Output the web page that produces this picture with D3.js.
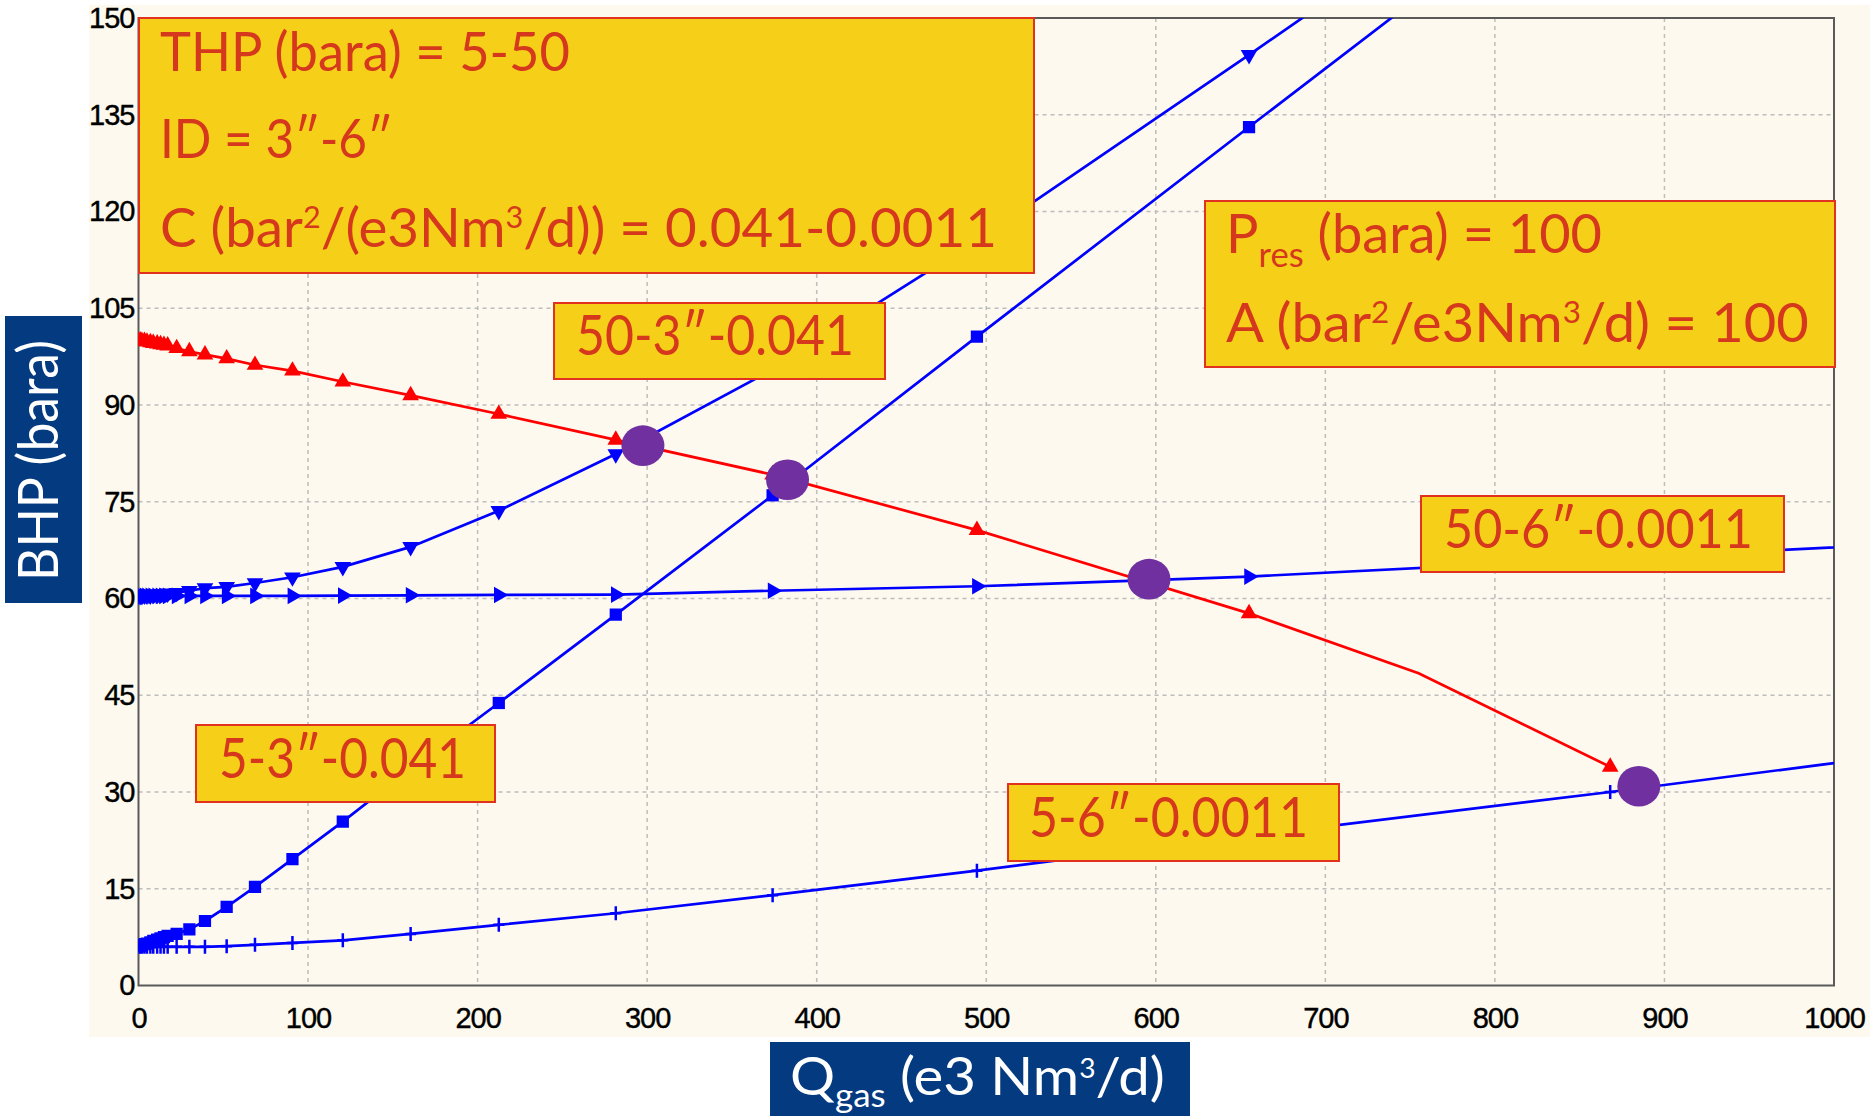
<!DOCTYPE html>
<html>
<head>
<meta charset="utf-8">
<script src="https://cdn.jsdelivr.net/npm/d3@7"></script>
<style>
  body { margin: 0; background: #ffffff; }
  svg { display: block; }
</style>
</head>
<body>
<svg id="chart" width="1870" height="1116"></svg>
<script>
// gas rate grid shared by the tubing curves (e3 Nm3/d)
const qGrid = [0, 1, 2, 3.5, 5, 7, 8.7, 11, 13, 15, 17.2, 22.5, 30, 39.2, 52, 68.7, 90.8, 120.5, 160.5, 212.5, 281.5, 374, 494.5, 655, 868, 1150];

// tubing performance curves, BHP (bara)
const bhp50_3 = [60.4, 60.4, 60.4, 60.5, 60.5, 60.5, 60.6, 60.6, 60.7, 60.7, 60.8, 60.9, 61.2, 61.6, 61.8, 62.4, 63.3, 64.9, 68.0, 73.6, 82.4, 95.5, 115.5, 144.3, 183];
const bhp50_6 = [60.4, 60.4, 60.4, 60.4, 60.4, 60.4, 60.4, 60.4, 60.4, 60.4, 60.4, 60.4, 60.4, 60.4, 60.4, 60.4, 60.4, 60.45, 60.5, 60.55, 60.6, 61.2, 61.9, 63.4, 66.2, 69.9];
const bhp5_3 = [6.1, 6.2, 6.3, 6.4, 6.5, 6.7, 6.9, 7.1, 7.3, 7.5, 7.7, 8.0, 8.7, 10.0, 12.2, 15.3, 19.6, 25.4, 33.6, 43.8, 57.5, 76.0, 100.6, 133.1, 176];
const bhp5_6 = [6.0, 6.0, 6.0, 6.0, 6.0, 6.0, 6.0, 6.0, 6.0, 6.0, 6.0, 6.0, 6.0, 6.0, 6.1, 6.3, 6.6, 7.0, 8.0, 9.4, 11.2, 14.0, 17.8, 23.2, 30.0, 39.6];

// inflow performance curve
const iprQ = [0, 1, 2, 3.5, 5, 7, 8.7, 11, 13, 15, 17.2, 22.5, 30, 39.2, 52, 68.7, 90.8, 120.5, 160.5, 212.5, 281.5, 374, 494.5, 655, 755, 868];
const iprP = [100.0, 100.0, 99.9, 99.9, 99.8, 99.7, 99.6, 99.5, 99.4, 99.3, 99.2, 98.8, 98.3, 97.8, 97.2, 96.2, 95.3, 93.6, 91.5, 88.6, 84.6, 79.2, 70.6, 57.7, 48.4, 33.9];

// operating points (intersections)
const opQ = [297.5, 382.8, 596.0, 884.9];
const opP = [83.7, 78.4, 63.0, 30.9];

const xTicks = [0, 100, 200, 300, 400, 500, 600, 700, 800, 900, 1000];
const yTicks = [0, 15, 30, 45, 60, 75, 90, 105, 120, 135, 150];

const svg = d3.select("#chart");
const pLeft = 138.5, pRight = 1834, pTop = 18, pBottom = 985.5;

const x = d3.scaleLinear().domain([0, 1000]).range([pLeft, pRight]);
const y = d3.scaleLinear().domain([0, 150]).range([pBottom, pTop]);

const RED_TXT = "#d5381c", BOX_FILL = "#f6d018", BOX_LINE = "#e0321e", NAVY = "#043a80";
const FONT = "Lato, 'Open Sans', sans-serif";

// cream background
svg.append("rect").attr("x", 89).attr("y", 5).attr("width", 1781).attr("height", 1032).attr("fill", "#fdf9ee");

// grid
const grid = svg.append("g").attr("stroke", "#bdbdbd").attr("stroke-width", 1.5).attr("stroke-dasharray", "4,4");
grid.selectAll(".gx").data(xTicks.slice(1, -1)).enter().append("line")
  .attr("x1", d => x(d)).attr("x2", d => x(d)).attr("y1", pTop).attr("y2", pBottom);
grid.selectAll(".gy").data(yTicks.slice(1, -1)).enter().append("line")
  .attr("y1", d => y(d)).attr("y2", d => y(d)).attr("x1", pLeft).attr("x2", pRight);

// axes
const xAxis = svg.append("g").attr("transform", `translate(0,${pBottom})`)
  .call(d3.axisBottom(x).tickValues(xTicks).tickSize(0).tickPadding(21.5).tickFormat(d3.format("d")));
const yAxis = svg.append("g").attr("transform", `translate(${pLeft},0)`)
  .call(d3.axisLeft(y).tickValues(yTicks).tickSize(0).tickPadding(4).tickFormat(d3.format("d")));
[xAxis, yAxis].forEach(a => {
  a.select(".domain").remove();
  a.selectAll("text").attr("fill", "#000").style("font-family", "'Liberation Sans', Arial, sans-serif")
    .style("font-size", "29px").style("letter-spacing", "-1px")
    .attr("stroke", "#000").attr("stroke-width", 0.4);
});

// frame
svg.append("rect").attr("x", pLeft).attr("y", pTop).attr("width", pRight - pLeft).attr("height", pBottom - pTop)
  .attr("fill", "none").attr("stroke", "#5a5a5a").attr("stroke-width", 2);

svg.append("clipPath").attr("id", "plotclip").append("rect")
  .attr("x", pLeft).attr("y", pTop).attr("width", pRight - pLeft).attr("height", pBottom - pTop);
const plot = svg.append("g").attr("clip-path", "url(#plotclip)");

const line = d3.line().x(d => x(d[0])).y(d => y(d[1]));

const tubing = [
  { p: bhp5_6, marker: "plus" },
  { p: bhp5_3, marker: "square" },
  { p: bhp50_6, marker: "right" },
  { p: bhp50_3, marker: "down" }
];

function drawMarkers(g, pts, kind, color) {
  if (kind === "plus") {
    g.selectAll(null).data(pts).enter().append("path")
      .attr("d", d => `M${x(d[0]) - 5.5},${y(d[1])}h11M${x(d[0])},${y(d[1]) - 7}v14`)
      .attr("stroke", color).attr("stroke-width", 2.5).attr("fill", "none");
    return;
  }
  const type = kind === "square" ? d3.symbolSquare : d3.symbolTriangle;
  const size = kind === "square" ? 150 : 120;
  const rot = kind === "down" ? 180 : kind === "right" ? 90 : 0;
  g.selectAll(null).data(pts).enter().append("path")
    .attr("d", d3.symbol().type(type).size(size)())
    .attr("transform", d => `translate(${x(d[0])},${y(d[1])}) rotate(${rot})`)
    .attr("fill", color);
}

tubing.forEach(s => {
  const pts = s.p.map((v, i) => [qGrid[i], v]);
  plot.append("path").datum(pts).attr("d", line).attr("fill", "none")
    .attr("stroke", "#0000ff").attr("stroke-width", 2.7);
  drawMarkers(plot, pts, s.marker, "#0000ff");
});

const ipr = iprQ.map((q, i) => [q, iprP[i]]);
plot.append("path").datum(ipr).attr("d", line).attr("fill", "none")
  .attr("stroke", "#ff0000").attr("stroke-width", 2.7);
drawMarkers(plot, ipr.filter(d => qGrid.includes(d[0])), "up", "#ff0000");

// operating points
svg.selectAll(".op").data(opQ).enter().append("ellipse")
  .attr("cx", d => x(d)).attr("cy", (d, i) => y(opP[i]))
  .attr("rx", 21.5).attr("ry", 20.3).attr("fill", "#7030a0");

// rich text helper: segments [text, kind]; kind n | sup | sub
function richText(g, segs, size, color, opt) {
  const o = Object.assign({ supSize: 0.56, supShift: 0.34, subSize: 0.64, subShift: 0.25 }, opt || {});
  const t = g.append("text").attr("fill", color).style("font-family", FONT).style("font-size", size + "px");
  let shift = 0;
  segs.forEach(([s, k]) => {
    const target = k === "sup" ? -size * o.supShift : k === "sub" ? size * o.subShift : 0;
    const fs = k === "sup" ? size * o.supSize : k === "sub" ? size * o.subSize : size;
    t.append("tspan").attr("dy", target - shift).style("font-size", fs + "px").text(s);
    shift = target;
  });
  return t;
}
function fit(t, x0, x1, base) {
  const b = t.node().getBBox();
  const sx = (x1 - x0) / b.width;
  t.attr("transform", `translate(${x0 - b.x * sx},${base}) scale(${sx},1)`);
}

// annotation boxes
const boxes = [
  { r: [139, 18, 1034, 273], size: 54, lines: [
    { segs: [["THP (bara) = 5-50", "n"]], x0: 160, x1: 570, base: 70.7 },
    { segs: [["ID = 3\u2033-6\u2033", "n"]], x0: 160, x1: 393, base: 158 },
    { segs: [["C (bar", "n"], ["2", "sup"], ["/(e3Nm", "n"], ["3", "sup"], ["/d)) = 0.041-0.0011", "n"]], x0: 160, x1: 997, base: 246.7 }
  ] },
  { r: [554, 303, 885, 379], size: 56, lines: [
    { segs: [["50-3\u2033-0.041", "n"]], x0: 576, x1: 854, base: 355 }
  ] },
  { r: [1205, 201, 1835, 367], size: 55, lines: [
    { segs: [["P", "n"], ["res", "sub"], [" (bara) = 100", "n"]], x0: 1226, x1: 1602, base: 253 },
    { segs: [["A (bar", "n"], ["2", "sup"], ["/e3Nm", "n"], ["3", "sup"], ["/d) = 100", "n"]], x0: 1226, x1: 1809, base: 341.7 }
  ] },
  { r: [1421, 496, 1784, 572], size: 55, lines: [
    { segs: [["50-6\u2033-0.0011", "n"]], x0: 1444, x1: 1753, base: 548.3 }
  ] },
  { r: [196, 725, 495, 802], size: 56, lines: [
    { segs: [["5-3\u2033-0.041", "n"]], x0: 219, x1: 466, base: 778 }
  ] },
  { r: [1008, 784, 1339, 861], size: 56, lines: [
    { segs: [["5-6\u2033-0.0011", "n"]], x0: 1029, x1: 1308, base: 837.3 }
  ] }
];

boxes.forEach(bx => {
  const g = svg.append("g");
  g.append("rect").attr("x", bx.r[0]).attr("y", bx.r[1])
    .attr("width", bx.r[2] - bx.r[0]).attr("height", bx.r[3] - bx.r[1])
    .attr("fill", BOX_FILL).attr("stroke", BOX_LINE).attr("stroke-width", 2);
  bx.lines.forEach(l => fit(richText(g, l.segs, bx.size, RED_TXT), l.x0, l.x1, l.base));
});

// axis titles
svg.append("rect").attr("x", 5).attr("y", 316).attr("width", 77).attr("height", 287).attr("fill", NAVY);
const yt = svg.append("g").attr("transform", "translate(58,581) rotate(-90)");
fit(richText(yt, [["BHP (bara)", "n"]], 57, "#ffffff"), 0, 241, 0);

svg.append("rect").attr("x", 770).attr("y", 1042).attr("width", 420).attr("height", 74).attr("fill", NAVY);
fit(richText(svg.append("g"), [["Q", "n"], ["gas", "sub"], [" (e3 Nm", "n"], ["3", "sup"], ["/d)", "n"]], 53, "#ffffff",
  { subSize: 0.62, subShift: 0.22, supSize: 0.5, supShift: 0.33 }), 790, 1165, 1095);
</script>
</body>
</html>
